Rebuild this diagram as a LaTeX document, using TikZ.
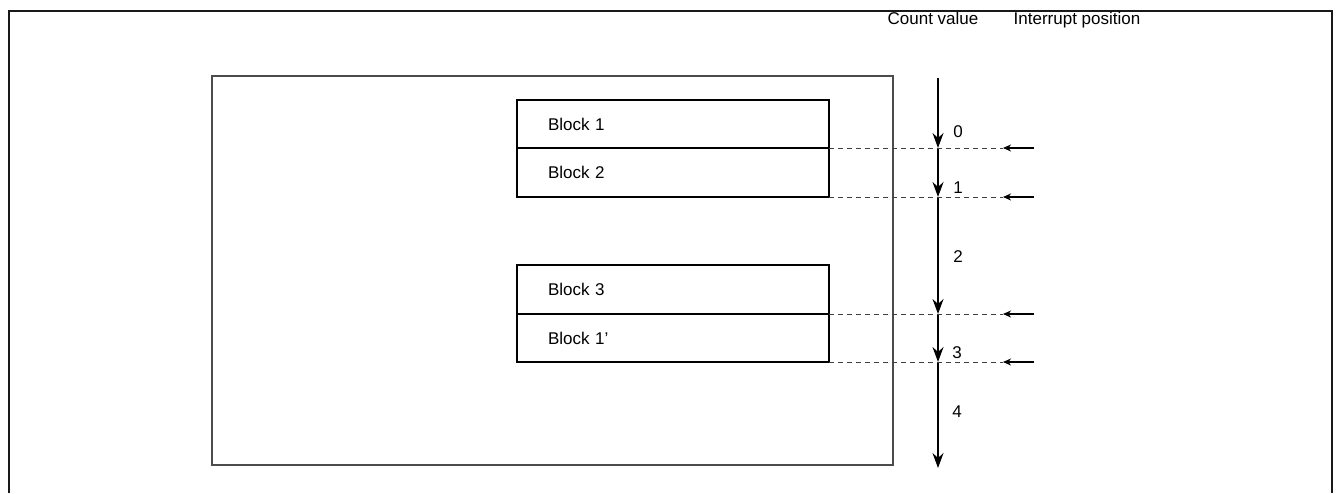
\documentclass[tikz,border=0pt]{standalone}
\usepackage{fontspec}
\setmainfont{Liberation Sans}
\usetikzlibrary{arrows.meta}
\begin{document}
\begin{tikzpicture}[x=1pt,y=-1pt,
  every node/.style={font=\fontsize{17}{20}\selectfont},
  blk/.style={draw=black,line width=2pt,outer sep=0pt,minimum width=312pt,text width=250pt,inner xsep=31pt,align=left,anchor=north west},
  frame/.style={line width=2.4pt,black!90},
  inner/.style={line width=1.2pt,black!70},
  dashline/.style={dashed,dash pattern=on 5pt off 4pt,line width=1pt,black!75},
  axis/.style={line width=1.4pt,-{Stealth[length=15pt,width=11pt,inset=5pt]}},
  intr/.style={line width=1.2pt,-{Stealth[length=8pt,width=7pt,inset=2.5pt]}},
  num/.style={anchor=center},
  head/.style={anchor=base}]
\useasboundingbox (0,0) rectangle (1340,493);
% outer frame (open at bottom)
\draw[frame] (9,493) -- (9,11) -- (1332,11) -- (1332,493);
% inner rectangle
\draw[inner] (212,76) rectangle (893,465);
% blocks
\node[blk,minimum height=48pt] (b1) at (517,100) {Block 1};
\node[blk,minimum height=49pt] (b2) at (517,148) {Block 2};
\node[blk,minimum height=49pt] (b3) at (517,265) {Block 3};
\node[blk,minimum height=48pt] (b4) at (517,314) {Block 1’};
% headers
\node[head] (cv) at (933,24) {Count value};
\node[head] (ip) at (1077,24) {Interrupt position};
% axis coordinates
\coordinate (a0) at (938,78);
\coordinate (a1) at (938,148);
\coordinate (a2) at (938,197);
\coordinate (a3) at (938,314);
\coordinate (a4) at (938,362);
\coordinate (a5) at (938,468);
\draw[axis] (a0) -- (a1);
\draw[axis] (a1) -- (a2);
\draw[axis] (a2) -- (a3);
\draw[axis] (a3) -- (a4);
\draw[axis] (a4) -- (a5);
% numbers
\node[num] (n0) at (958,132) {0};
\node[num] (n1) at (958,188) {1};
\node[num] (n2) at (958,257) {2};
\node[num] (n3) at (957,353) {3};
\node[num] (n4) at (957,412) {4};
% interrupt positions
\coordinate (d1) at (1003,148);
\coordinate (d2) at (1003,197);
\coordinate (d3) at (1003,314);
\coordinate (d4) at (1003,362);
\coordinate (s1) at (1034,148);
\coordinate (s2) at (1034,197);
\coordinate (s3) at (1034,314);
\coordinate (s4) at (1034,362);
\draw[dashline] (b1.south east) -- (d1);
\draw[dashline] (b2.south east) -- (d2);
\draw[dashline] (b3.south east) -- (d3);
\draw[dashline] (b4.south east) -- (d4);
\draw[intr] (s1) -- (d1);
\draw[intr] (s2) -- (d2);
\draw[intr] (s3) -- (d3);
\draw[intr] (s4) -- (d4);
\end{tikzpicture}
\end{document}
